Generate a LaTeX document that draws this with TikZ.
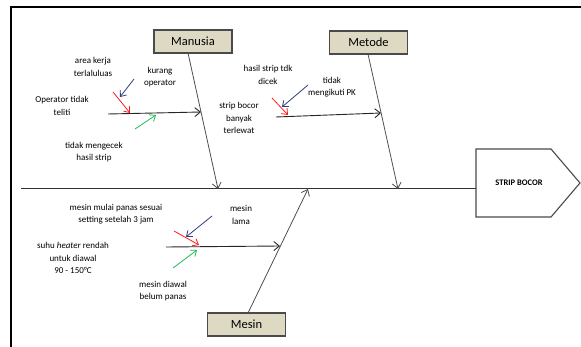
\documentclass[tikz,border=0pt]{standalone}
\usepackage{fontspec}
\setmainfont{Carlito}
\usetikzlibrary{arrows.meta}
\definecolor{boxfill}{HTML}{DDD9C3}
\definecolor{boxline}{HTML}{4A4A4A}
\definecolor{bonegray}{HTML}{4D4D4D}
\definecolor{cblue}{HTML}{2F3F7F}
\definecolor{cred}{HTML}{FF1A1A}
\definecolor{cgreen}{HTML}{1DB954}
\begin{document}
\begin{tikzpicture}[x=1pt,y=-1pt,
  catbox/.style={draw=boxline,line width=1.3pt,fill=boxfill,minimum width=78pt,minimum height=23pt,inner sep=0pt,font=\fontsize{12.5}{14}\selectfont},
  lbl/.style={align=center,font=\fontsize{9}{12.2}\selectfont,inner sep=0pt},
  bone/.style={draw=bonegray,line width=0.8pt,-{Straight Barb[length=5.5pt,width=9pt]}},
  sub/.style={draw=black!85,line width=0.9pt,-{Straight Barb[length=5.5pt,width=9pt]}},
  small/.style={line width=0.8pt,-{Straight Barb[length=5pt,width=8pt]}}
]
\useasboundingbox (0,0) rectangle (581,347);
% frame
\draw[line width=2pt] (11,347) -- (11,7) -- (581,7);

% category boxes
\node[catbox] (manusia) at (193,41.5) {Manusia};
\node[catbox] (metode) at (368.5,42.5) {Metode};
\node[catbox] (mesin) at (246.5,324.5) {Mesin};

% effect pentagon
\draw[draw=boxline,line width=1.1pt] (476,149) -- (551,149) -- (580,183) -- (551,217) -- (476,217) -- cycle;
\node[font=\fontsize{8.5}{10}\selectfont\bfseries,inner sep=0pt] (effect) at (519,183) {STRIP BOCOR};

% spine
\coordinate (spineL) at (21,189);
\coordinate (spineR) at (476,189);
\draw[draw=black!80,line width=1pt] (spineL) -- (spineR);

% main bones
\coordinate (manTop) at (188,53);
\coordinate (manEnd) at (218,189);
\coordinate (metTop) at (368,54);
\coordinate (metEnd) at (398,189);
\coordinate (mesBot) at (248,313);
\coordinate (mesEnd) at (308,189);
\draw[bone] (manTop) -- (manEnd);
\draw[bone] (metTop) -- (metEnd);
\draw[bone] (mesBot) -- (mesEnd);

% sub bones
\coordinate (s1a) at (108,114);
\coordinate (s1b) at (201,112);
\coordinate (s2a) at (276,117);
\coordinate (s2b) at (381,113);
\coordinate (s3a) at (166,247);
\coordinate (s3b) at (280,246);
\draw[sub] (s1a) -- (s1b);
\draw[sub] (s2a) -- (s2b);
\draw[sub] (s3a) -- (s3b);

% small arrows - Manusia
\coordinate (m1a) at (134,79);  \coordinate (m1b) at (120,97);
\coordinate (m2a) at (113,92);  \coordinate (m2b) at (130,113);
\coordinate (m3a) at (135,129); \coordinate (m3b) at (156,115);
\draw[small,cblue] (m1a) -- (m1b);
\draw[small,cred] (m2a) -- (m2b);
\draw[small,cgreen] (m3a) -- (m3b);
% small arrows - Metode
\coordinate (t1a) at (308,85);  \coordinate (t1b) at (282,107);
\coordinate (t2a) at (272,98);  \coordinate (t2b) at (288,115);
\draw[small,cblue] (t1a) -- (t1b);
\draw[small,cred] (t2a) -- (t2b);
% small arrows - Mesin
\coordinate (e1a) at (212,216); \coordinate (e1b) at (186,237);
\coordinate (e2a) at (174,231); \coordinate (e2b) at (199,245);
\coordinate (e3a) at (173,268); \coordinate (e3b) at (197,250);
\draw[small,cblue] (e1a) -- (e1b);
\draw[small,cred] (e2a) -- (e2b);
\draw[small,cgreen] (e3a) -- (e3b);

% labels
\node[lbl] (l1) at (93,67) {area kerja\\terlaluluas};
\node[lbl] (l2) at (160,77) {kurang\\operator};
\node[lbl] (l3) at (62,106) {Operator tidak\\teliti};
\node[lbl] (l4) at (94,152) {tidak mengecek\\hasil strip};
\node[lbl] (l5) at (268,75) {hasil strip tdk\\dicek};
\node[lbl] (l6) at (332,87) {tidak\\mengikuti PK};
\node[lbl] (l7) at (239,118) {strip bocor\\banyak\\terlewat};
\node[lbl] (l8) at (116,214) {mesin mulai panas sesuai\\setting setelah 3 jam};
\node[lbl] (l9) at (241,215) {mesin\\lama};
\node[lbl] (l10) at (73,258) {suhu \textit{heater} rendah\\untuk diawal\\90 - 150°C};
\node[lbl] (l11) at (163,291) {mesin diawal\\belum panas};
\end{tikzpicture}
\end{document}
